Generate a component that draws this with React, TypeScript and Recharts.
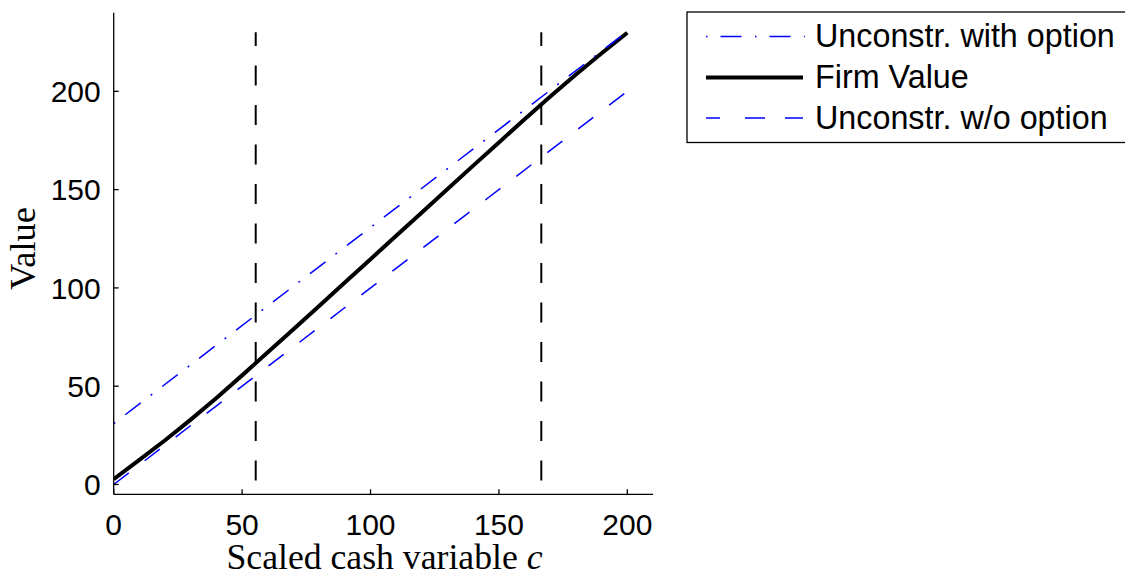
import React from 'react';
import { LineChart, Line, XAxis, YAxis, Legend, Label } from 'recharts';

// Scaled cash grid and firm value
const cashGrid = [0, 10, 20, 30, 40, 50, 60, 70, 80, 90, 100, 110, 120, 130, 140, 150, 160, 170, 180, 190, 200];
const firmValue = [2.7, 12.5, 22.5, 33, 44, 55.5, 67.3, 79, 90.8, 102.7, 114.6, 126.5, 138.4, 150.3, 162.2, 174, 185.8, 197.4, 208.6, 219.4, 229.8];

// Unconstrained with option (straight line)
const optionCash = [0, 200];
const optionValue = [31, 230.5];

// Unconstrained without option (straight line)
const noOptionCash = [0, 200];
const noOptionValue = [0, 200];

// Payout / financing boundaries (vertical dashed lines)
const lowerBoundaryCash = [55.3, 55.3];
const upperBoundaryCash = [166.5, 166.5];
const boundarySpan = [2, 230];

const xTicks = [0, 50, 100, 150, 200];
const yTicks = [0, 50, 100, 150, 200];

const seriesNames = ['Unconstr. with option', 'Firm Value', 'Unconstr. w/o option'];

const toRows = (xs: number[], ys: number[]) => xs.map((c, i) => ({ c, v: ys[i] }));

const SANS = '"Liberation Sans", Arial, Helvetica, sans-serif';
const SERIF = '"Liberation Serif", "Times New Roman", serif';
const BLUE = '#0000ff';

const LegendBox = () => (
  <svg width={1125} height={575} style={{ position: 'absolute', left: 0, top: 0, overflow: 'visible' }}>
    <rect x={687} y={12} width={460} height={130.5} fill="#fff" stroke="#000" strokeWidth={1.3} />
    <line x1={706} x2={805} y1={36.5} y2={36.5} stroke={BLUE} strokeWidth={1.5} strokeDasharray="1.5 13 21 13.5" />
    <text x={815} y={47} fontFamily={SANS} fontSize={32.3} fill="#000">{seriesNames[0]}</text>
    <line x1={706} x2={803} y1={77.5} y2={77.5} stroke="#000" strokeWidth={4} />
    <text x={815} y={88.3} fontFamily={SANS} fontSize={32.3} fill="#000">{seriesNames[1]}</text>
    <line x1={706} x2={803} y1={118} y2={118} stroke={BLUE} strokeWidth={1.5} strokeDasharray="14 25 20 20 20" />
    <text x={815} y={129.3} fontFamily={SANS} fontSize={32.3} fill="#000">{seriesNames[2]}</text>
  </svg>
);

export default function App() {
  const firmData = toRows(cashGrid, firmValue);
  const optionData = toRows(optionCash, optionValue);
  const noOptionData = toRows(noOptionCash, noOptionValue);
  const lowerData = toRows(lowerBoundaryCash, boundarySpan);
  const upperData = toRows(upperBoundaryCash, boundarySpan);

  return (
    <div style={{ position: 'absolute', left: 0, top: 0, width: 1125, height: 575, overflow: 'hidden', background: '#fff' }}>
      <LineChart width={1125} height={575} margin={{ top: 12.7, right: 472, bottom: 0, left: 0 }}>
        <XAxis
          type="number"
          dataKey="c"
          domain={[0, 210]}
          ticks={xTicks}
          allowDataOverflow
          height={80.7}
          axisLine={{ stroke: '#000', strokeWidth: 1.3 }}
          tickLine={{ stroke: '#000', strokeWidth: 1.3 }}
          tickSize={-5}
          tickMargin={24}
          tick={{ fill: '#000', fontSize: 30, fontFamily: SANS }}
        >
          <Label
            content={() => (
              <text x={384.5} y={569} textAnchor="middle" fontFamily={SERIF} fontSize={35.7} fill="#000">
                Scaled cash variable <tspan fontStyle="italic">c</tspan>
              </text>
            )}
          />
        </XAxis>
        <YAxis
          type="number"
          domain={[-5, 240]}
          ticks={yTicks}
          allowDataOverflow
          width={113.7}
          axisLine={{ stroke: '#000', strokeWidth: 1.3 }}
          tickLine={{ stroke: '#000', strokeWidth: 1.3 }}
          tickSize={-5}
          tickMargin={18}
          tick={{ fill: '#000', fontSize: 30, fontFamily: SANS }}
        >
          <Label
            content={() => (
              <text x={35} y={248.5} transform="rotate(-90 35 248.5)" textAnchor="middle" fontFamily={SERIF} fontSize={36.5} fill="#000">
                Value
              </text>
            )}
          />
        </YAxis>
        <Legend layout="vertical" align="center" verticalAlign="middle" wrapperStyle={{ left: 0, top: 0, width: 1125, height: 575, pointerEvents: 'none' }} content={() => <LegendBox />} />
        <Line data={firmData} dataKey="v" name={seriesNames[1]} type="linear" stroke="#000" strokeWidth={4} dot={false} activeDot={false} isAnimationActive={false} />
        <Line data={optionData} dataKey="v" name={seriesNames[0]} type="linear" stroke={BLUE} strokeWidth={1.5} strokeDasharray="2 12.5 19.5 12.5" dot={false} activeDot={false} isAnimationActive={false} />
        <Line data={noOptionData} dataKey="v" name={seriesNames[2]} type="linear" stroke={BLUE} strokeWidth={1.5} strokeDasharray="19 20" dot={false} activeDot={false} isAnimationActive={false} />
        <Line data={lowerData} dataKey="v" type="linear" stroke="#000" strokeWidth={2} strokeDasharray="20 19.5" dot={false} activeDot={false} isAnimationActive={false} legendType="none" />
        <Line data={upperData} dataKey="v" type="linear" stroke="#000" strokeWidth={2} strokeDasharray="20 19.5" dot={false} activeDot={false} isAnimationActive={false} legendType="none" />
      </LineChart>
    </div>
  );
}
